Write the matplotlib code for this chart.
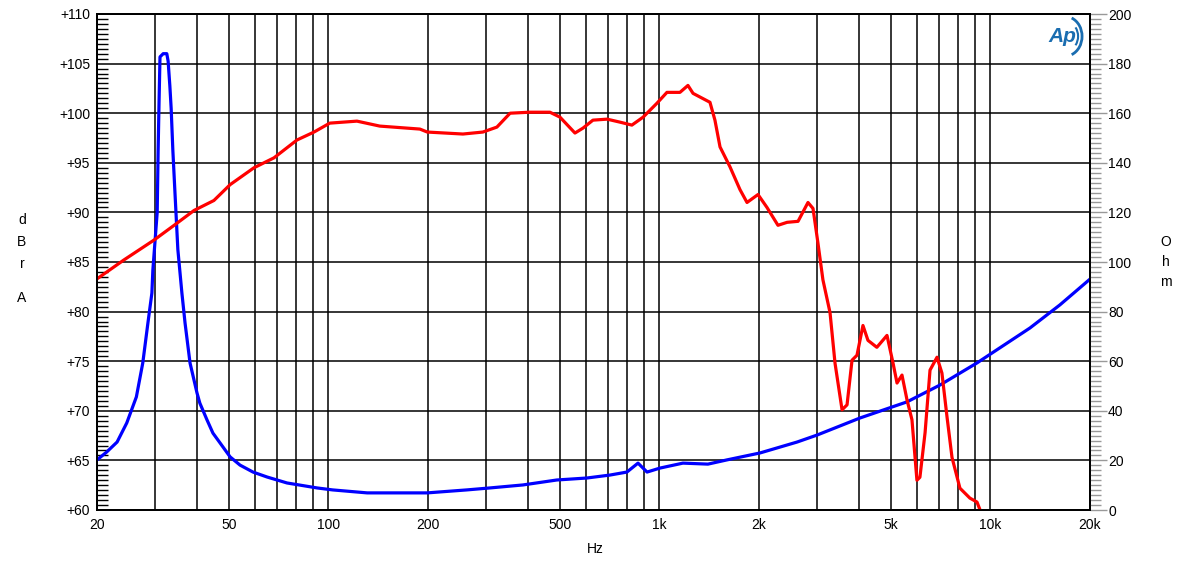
import matplotlib
matplotlib.use("Agg")
import matplotlib.pyplot as plt
from matplotlib.ticker import MultipleLocator, FixedLocator
from matplotlib.patches import Arc

plt.rcParams["font.family"] = ["Liberation Sans", "DejaVu Sans"]

# frequency response (dBrA)
spl_freq = [20, 24.1, 29.7, 34.2, 39.3, 45.1, 50.5, 59.6, 68.5, 80.4, 90.5, 101, 122, 143,
            189, 199, 255, 293, 323, 354, 406, 467, 501, 556, 588, 630, 695, 760, 826, 893,
            983, 1054, 1154, 1220, 1264, 1422, 1472, 1525, 1634, 1752, 1840, 1986, 2114,
            2282, 2432, 2624, 2812, 2912, 3014, 3120, 3278, 3394, 3564, 3690, 3820, 3954,
            4122, 4268, 4540, 4872, 5082, 5224, 5408, 5600, 5796, 6000, 6126, 6350, 6572,
            6900, 7140, 7396, 7658, 8092, 8672, 9112, 9436]
spl_db = [83.3, 85.2, 87.2, 88.7, 90.2, 91.2, 92.8, 94.5, 95.5, 97.3, 98.1, 99.0, 99.2, 98.7,
          98.4, 98.1, 97.9, 98.1, 98.6, 100.0, 100.1, 100.1, 99.6, 98.0, 98.5, 99.3, 99.4, 99.1,
          98.8, 99.6, 101.0, 102.1, 102.1, 102.8, 102.0, 101.1, 99.3, 96.6, 94.6, 92.3, 91.0,
          91.8, 90.5, 88.7, 89.0, 89.1, 91.0, 90.4, 86.9, 83.2, 79.9, 74.8, 70.1, 70.6, 75.1,
          75.6, 78.6, 77.1, 76.4, 77.6, 74.8, 72.8, 73.6, 71.1, 69.1, 63.0, 63.3, 67.8, 74.1,
          75.4, 73.8, 69.4, 65.3, 62.2, 61.2, 60.8, 59.5]

# impedance (Ohm)
imp_freq = [20, 21.4, 23.0, 24.6, 26.3, 27.5, 28.5, 29.3, 29.5, 30.4, 30.6, 30.8, 31.0, 31.7,
            32.5, 32.8, 33.2, 33.5, 33.9, 34.4, 35.1, 36.1, 36.9, 38.2, 40.1, 40.9, 43.0,
            44.8, 47.1, 50.5, 54.1, 59.2, 65.3, 75, 92.4, 103, 131, 199, 262, 308, 387, 490,
            604, 710, 798, 862, 918, 1004, 1178, 1402, 1600, 2014, 2606, 2993, 4038, 5600,
            7046, 9112, 13174, 16220, 20000]
imp_ohm = [20.2, 23.4, 27.4, 35.1, 45.6, 59.3, 75.4, 87.5, 96.8, 120, 145, 165, 182.7, 184,
           184, 181, 171, 162, 145, 128, 105, 87.5, 75.4, 59.3, 47.2, 43.1, 36.3,
           31.0, 27.0, 21.4, 18.1, 15.3, 13.3, 10.9, 8.9, 8.1, 6.9, 6.9, 8.1, 8.9, 10.1, 12.1,
           12.9, 14.1, 15.3, 18.9, 15.3, 16.9, 18.9, 18.5, 20.2, 23.0, 27.4, 30.2, 37.1, 43.6,
           50.4, 59.3, 73.4, 82.7, 93.1]

grid_freqs = [20, 30, 40, 50, 60, 70, 80, 90, 100, 200, 300, 400, 500, 600, 700, 800, 900,
              1000, 2000, 3000, 4000, 5000, 6000, 7000, 8000, 9000, 10000, 20000]
freq_labels = {20: "20", 50: "50", 100: "100", 200: "200", 500: "500", 1000: "1k",
               2000: "2k", 5000: "5k", 10000: "10k", 20000: "20k"}

fig = plt.figure(figsize=(12, 5.64), dpi=100)
ax = fig.add_axes([97 / 1200, 1 - 510 / 564, 993 / 1200, 496 / 564])
ax2 = ax.twinx()

ax.set_xscale("log")
ax.set_xlim(20, 20000)
ax.set_ylim(60, 110)
ax2.set_ylim(0, 200)

ax.xaxis.set_major_locator(FixedLocator(grid_freqs))
ax.set_xticklabels([freq_labels.get(f, "") for f in grid_freqs])
ax.xaxis.set_minor_locator(FixedLocator([]))
ax.tick_params(axis="x", which="both", length=0, pad=6, labelsize=10)

ax.set_yticks(range(60, 111, 5))
ax.set_yticklabels(["+%d" % v for v in range(60, 111, 5)])
ax.yaxis.set_minor_locator(MultipleLocator(0.5))
ax.tick_params(axis="y", which="major", length=0, pad=5, labelsize=10)
ax.tick_params(axis="y", which="minor", direction="in", length=8, width=1, color="black")

ax.grid(True, which="major", color="black", linewidth=1.1)
ax.set_axisbelow(True)

ax2.yaxis.set_major_locator(MultipleLocator(20))
ax2.yaxis.set_minor_locator(MultipleLocator(2))
ax2.tick_params(axis="y", which="major", direction="out", length=12, width=1, color="#999999",
                pad=1, labelsize=10)
ax2.tick_params(axis="y", which="minor", direction="out", length=8, width=1, color="#999999")

for a in (ax, ax2):
    for s in a.spines.values():
        s.set_color("black")
        s.set_linewidth(1.3)

# impedance drawn on the left axis scale (0..200 Ohm -> 60..110)
ax.plot(imp_freq, [60 + v / 4 for v in imp_ohm], color="#0000ff", lw=2.3, zorder=3)
ax.plot(spl_freq, spl_db, color="#ff0000", lw=2.3, zorder=4)

# axis titles as stacked letters
for ch, y in zip("dBrA", [220, 242, 264, 298]):
    fig.text(22 / 1200, 1 - y / 564, ch, ha="center", va="center", fontsize=10)
for ch, y in zip("Ohm", [242, 262, 282]):
    fig.text(1166 / 1200, 1 - y / 564, ch, ha="center", va="center", fontsize=10)
fig.text(595 / 1200, 1 - 549 / 564, "Hz", ha="center", va="center", fontsize=10)

# AP logo
ax.text(0.972, 0.955, "Ap", transform=ax.transAxes, ha="center", va="center",
        fontsize=15, fontweight="bold", style="italic", color="#1a6db0")
ax.add_patch(Arc((0.975, 0.955), 0.034, 0.08, theta1=-80, theta2=80, transform=ax.transAxes,
                 color="#1a6db0", lw=2))
ax.add_patch(Arc((0.975, 0.955), 0.026, 0.06, theta1=-60, theta2=60, transform=ax.transAxes,
                 color="#1a6db0", lw=1.5))

fig.savefig("out.png", dpi=100)
